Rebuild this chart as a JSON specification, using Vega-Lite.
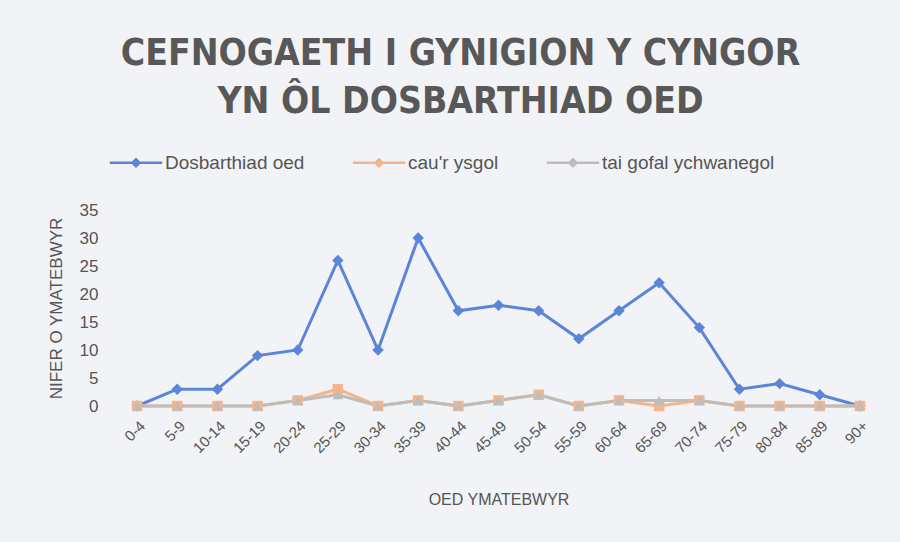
{
  "$schema": "https://vega.github.io/schema/vega-lite/v6.json",
  "width": 763,
  "height": 196,
  "autosize": {"type": "none"},
  "padding": {"left": 117, "top": 210, "right": 20, "bottom": 136},
  "background": "#f2f3f7",
  "title": {
    "text": ["CEFNOGAETH I GYNIGION Y CYNGOR", "YN ÔL DOSBARTHIAD OED"],
    "font": "Liberation Sans Narrow, DejaVu Sans Condensed, Roboto",
    "fontSize": 37,
    "fontWeight": "bold",
    "color": "#585858",
    "anchor": "middle",
    "lineHeight": 48,
    "offset": 31,
    "dx": -38
  },
  "config": {
    "view": {"stroke": null},
    "axis": {"labelFont": "Liberation Sans", "titleFont": "Liberation Sans", "labelColor": "#555555", "titleColor": "#555555", "grid": false, "ticks": false, "domain": false},
    "legend": {"labelFont": "Liberation Sans", "labelColor": "#555555"}
  },
  "data": {
    "values": [
      {"age": "0-4", "series": "Dosbarthiad oed", "value": 0},
      {"age": "5-9", "series": "Dosbarthiad oed", "value": 3},
      {"age": "10-14", "series": "Dosbarthiad oed", "value": 3},
      {"age": "15-19", "series": "Dosbarthiad oed", "value": 9},
      {"age": "20-24", "series": "Dosbarthiad oed", "value": 10},
      {"age": "25-29", "series": "Dosbarthiad oed", "value": 26},
      {"age": "30-34", "series": "Dosbarthiad oed", "value": 10},
      {"age": "35-39", "series": "Dosbarthiad oed", "value": 30},
      {"age": "40-44", "series": "Dosbarthiad oed", "value": 17},
      {"age": "45-49", "series": "Dosbarthiad oed", "value": 18},
      {"age": "50-54", "series": "Dosbarthiad oed", "value": 17},
      {"age": "55-59", "series": "Dosbarthiad oed", "value": 12},
      {"age": "60-64", "series": "Dosbarthiad oed", "value": 17},
      {"age": "65-69", "series": "Dosbarthiad oed", "value": 22},
      {"age": "70-74", "series": "Dosbarthiad oed", "value": 14},
      {"age": "75-79", "series": "Dosbarthiad oed", "value": 3},
      {"age": "80-84", "series": "Dosbarthiad oed", "value": 4},
      {"age": "85-89", "series": "Dosbarthiad oed", "value": 2},
      {"age": "90+", "series": "Dosbarthiad oed", "value": 0},
      {"age": "0-4", "series": "cau'r ysgol", "value": 0},
      {"age": "5-9", "series": "cau'r ysgol", "value": 0},
      {"age": "10-14", "series": "cau'r ysgol", "value": 0},
      {"age": "15-19", "series": "cau'r ysgol", "value": 0},
      {"age": "20-24", "series": "cau'r ysgol", "value": 1},
      {"age": "25-29", "series": "cau'r ysgol", "value": 3},
      {"age": "30-34", "series": "cau'r ysgol", "value": 0},
      {"age": "35-39", "series": "cau'r ysgol", "value": 1},
      {"age": "40-44", "series": "cau'r ysgol", "value": 0},
      {"age": "45-49", "series": "cau'r ysgol", "value": 1},
      {"age": "50-54", "series": "cau'r ysgol", "value": 2},
      {"age": "55-59", "series": "cau'r ysgol", "value": 0},
      {"age": "60-64", "series": "cau'r ysgol", "value": 1},
      {"age": "65-69", "series": "cau'r ysgol", "value": 0},
      {"age": "70-74", "series": "cau'r ysgol", "value": 1},
      {"age": "75-79", "series": "cau'r ysgol", "value": 0},
      {"age": "80-84", "series": "cau'r ysgol", "value": 0},
      {"age": "85-89", "series": "cau'r ysgol", "value": 0},
      {"age": "90+", "series": "cau'r ysgol", "value": 0},
      {"age": "0-4", "series": "tai gofal ychwanegol", "value": 0},
      {"age": "5-9", "series": "tai gofal ychwanegol", "value": 0},
      {"age": "10-14", "series": "tai gofal ychwanegol", "value": 0},
      {"age": "15-19", "series": "tai gofal ychwanegol", "value": 0},
      {"age": "20-24", "series": "tai gofal ychwanegol", "value": 1},
      {"age": "25-29", "series": "tai gofal ychwanegol", "value": 2},
      {"age": "30-34", "series": "tai gofal ychwanegol", "value": 0},
      {"age": "35-39", "series": "tai gofal ychwanegol", "value": 1},
      {"age": "40-44", "series": "tai gofal ychwanegol", "value": 0},
      {"age": "45-49", "series": "tai gofal ychwanegol", "value": 1},
      {"age": "50-54", "series": "tai gofal ychwanegol", "value": 2},
      {"age": "55-59", "series": "tai gofal ychwanegol", "value": 0},
      {"age": "60-64", "series": "tai gofal ychwanegol", "value": 1},
      {"age": "65-69", "series": "tai gofal ychwanegol", "value": 1},
      {"age": "70-74", "series": "tai gofal ychwanegol", "value": 1},
      {"age": "75-79", "series": "tai gofal ychwanegol", "value": 0},
      {"age": "80-84", "series": "tai gofal ychwanegol", "value": 0},
      {"age": "85-89", "series": "tai gofal ychwanegol", "value": 0},
      {"age": "90+", "series": "tai gofal ychwanegol", "value": 0}
    ]
  },
  "encoding": {
    "x": {
      "field": "age", "type": "ordinal", "sort": null,
      "scale": {"paddingInner": 0, "paddingOuter": 0.5},
      "axis": {"title": "OED YMATEBWYR", "labelAngle": -45, "labelFontSize": 15, "labelPadding": 12, "titleFontSize": 16, "titlePadding": 36, "titleFontWeight": "normal"}
    },
    "y": {
      "field": "value", "type": "quantitative",
      "scale": {"domain": [0, 35], "nice": false},
      "axis": {"title": "NIFER O YMATEBWYR", "values": [0, 5, 10, 15, 20, 25, 30, 35], "labelFontSize": 17, "labelPadding": 19, "titleFontSize": 17, "titleFontWeight": "normal", "titlePadding": 14}
    },
    "color": {
      "field": "series", "type": "nominal",
      "scale": {"domain": ["Dosbarthiad oed", "cau'r ysgol", "tai gofal ychwanegol"], "range": ["#5b86d8", "#f5b58a", "#bdbdbd"]},
      "legend": {
        "title": null, "orient": "none", "direction": "horizontal", "legendX": 8.5, "legendY": -58,
        "labelFontSize": 19, "labelLimit": 300,
        "symbolType": "M-2.5,-0.13H2.5V0.13H-2.5Z M0,-0.5L0.5,0L0,0.5L-0.5,0Z",
        "symbolSize": 441, "labelOffset": 18.5, "columnPadding": 48, "symbolStrokeWidth": 0,
        "symbolOpacity": 1
      }
    }
  },
  "layer": [
    {"mark": {"type": "line", "strokeWidth": 3}},
    {
      "transform": [{"filter": "datum.series === 'Dosbarthiad oed'"}],
      "mark": {"type": "point", "filled": true, "size": 130, "opacity": 1, "shape": "diamond"}
    },
    {
      "transform": [{"filter": "datum.series === \"cau'r ysgol\""}],
      "mark": {"type": "point", "filled": true, "size": 110, "opacity": 1, "shape": "square"}
    },
    {
      "transform": [{"filter": "datum.series === 'tai gofal ychwanegol'"}],
      "mark": {"type": "point", "filled": true, "size": 110, "opacity": 1, "shape": "triangle-up"}
    }
  ]
}
